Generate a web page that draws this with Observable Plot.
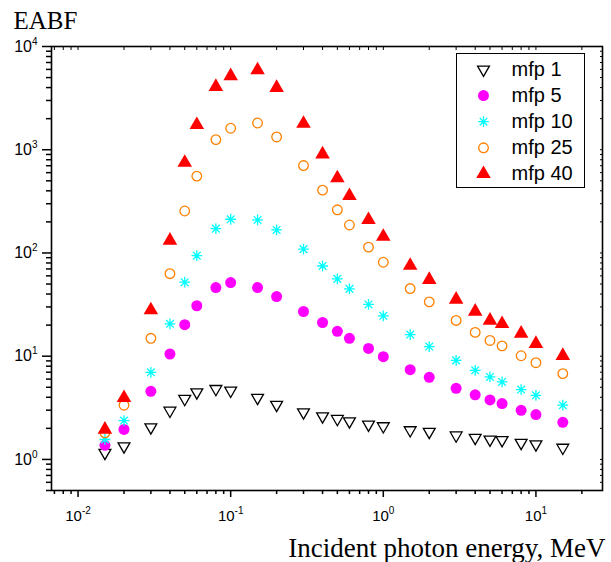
<!DOCTYPE html>
<html>
<head>
<meta charset="utf-8">
<script src="https://cdn.jsdelivr.net/npm/d3@7"></script>
<script src="https://cdn.jsdelivr.net/npm/@observablehq/plot@0.6"></script>
<style>
  body { margin: 0; background: #fff; }
  #chart svg { display: block; }
</style>
</head>
<body>
<div id="chart"></div>
<script>
// ---- data ----
const energies = [0.015, 0.02, 0.03, 0.04, 0.05, 0.06, 0.08, 0.1, 0.15, 0.2, 0.3, 0.4, 0.5, 0.6, 0.8, 1, 1.5, 2, 3, 4, 5, 6, 8, 10, 15];
const mfp1  = [1.16, 1.34, 2.05, 2.97, 3.86, 4.47, 4.82, 4.64, 3.95, 3.38, 2.86, 2.62, 2.47, 2.34, 2.18, 2.10, 1.92, 1.85, 1.71, 1.62, 1.56, 1.54, 1.45, 1.40, 1.30];
const mfp5  = [1.37, 1.95, 4.57, 10.5, 20.2, 30.8, 46.2, 51.7, 46.2, 37.8, 27.1, 21.2, 17.4, 14.9, 11.9, 9.89, 7.41, 6.24, 4.89, 4.22, 3.77, 3.48, 2.99, 2.72, 2.29];
const mfp10 = [1.56, 2.38, 6.98, 20.6, 52.1, 94.2, 172, 212, 209, 167, 109, 74.8, 56.1, 44.9, 31.7, 24.6, 16.2, 12.4, 9.11, 7.3, 6.3, 5.63, 4.75, 4.18, 3.35];
const mfp25 = [1.81, 3.35, 14.9, 63, 255, 555, 1254, 1614, 1815, 1330, 703, 406, 262, 186.5, 114, 81.3, 45.2, 33.6, 22.2, 17.0, 14.2, 12.6, 10.1, 8.65, 6.78];
const mfp40 = [1.95, 3.95, 28, 132, 750, 1740, 4080, 5180, 5900, 3990, 1790, 905, 532, 358, 209, 144, 75.5, 55, 35.4, 27.1, 22.2, 20.6, 16.6, 13.2, 10.1];

const seriesNames = ["mfp 1", "mfp 5", "mfp 10", "mfp 25", "mfp 40"];
const seriesValues = [mfp1, mfp5, mfp10, mfp25, mfp40];

// ---- ticks ----
const xMajorTicks = [0.01, 0.1, 1, 10];
const xMinorTicks = [0.007, 0.008, 0.009, 0.02, 0.03, 0.04, 0.05, 0.06, 0.07, 0.08, 0.09,
  0.2, 0.3, 0.4, 0.5, 0.6, 0.7, 0.8, 0.9, 2, 3, 4, 5, 6, 7, 8, 9, 20];
const yMajorTicks = [1, 10, 100, 1000, 10000];
const yMinorTicks = [0.5, 0.6, 0.7, 0.8, 0.9, 2, 3, 4, 5, 6, 7, 8, 9, 20, 30, 40, 50, 60, 70, 80, 90,
  200, 300, 400, 500, 600, 700, 800, 900, 2000, 3000, 4000, 5000, 6000, 7000, 8000, 9000];

const xLabel = "Incident photon energy, MeV";
const yLabel = "EABF";

// 8-armed asterisk symbol
const asterisk8 = {
  draw(context, size) {
    const r = Math.sqrt(size / Math.PI);
    const c = r * Math.SQRT1_2;
    context.moveTo(-r, 0); context.lineTo(r, 0);
    context.moveTo(0, -r); context.lineTo(0, r);
    context.moveTo(-c, -c); context.lineTo(c, c);
    context.moveTo(-c, c); context.lineTo(c, -c);
  }
};

const seriesStyles = [
  {symbol: "triangle", rotate: 180, r: 4.4, stroke: "#000", fill: "none", strokeWidth: 1.3},
  {symbol: "circle", r: 5.5, fill: "#ff00ff", stroke: "none"},
  {symbol: asterisk8, r: 5.4, stroke: "#00ffff", fill: "none", strokeWidth: 1.3},
  {symbol: "circle", r: 4.8, stroke: "#ff8000", fill: "none", strokeWidth: 1.3},
  {symbol: "triangle", r: 5.4, fill: "#ff0000", stroke: "none"}
];

const rows = energies.flatMap((e, i) =>
  seriesNames.map((s, k) => ({energy: e, eabf: seriesValues[k][i], series: s})));

const expFmt = d => "10^" + Math.round(Math.log10(d));
const blank = () => "";

const marks = [
  Plot.frame({stroke: "#000", strokeWidth: 1.6}),
  Plot.axisX(xMajorTicks, {anchor: "bottom", tickSize: 7, tickPadding: 13, tickFormat: expFmt, fontSize: 15, label: null, strokeWidth: 1.5}),
  Plot.axisX(xMinorTicks, {anchor: "bottom", tickSize: 4, tickFormat: blank, label: null, strokeWidth: 1.5}),
  Plot.axisX([...xMajorTicks, ...xMinorTicks], {anchor: "top", tickSize: -3, tickFormat: blank, label: null, strokeWidth: 1}),
  Plot.axisY(yMajorTicks, {anchor: "left", tickSize: 9, tickPadding: 5, tickFormat: expFmt, fontSize: 16, label: null, strokeWidth: 1.5}),
  Plot.axisY(yMinorTicks, {anchor: "left", tickSize: 5, tickFormat: blank, label: null, strokeWidth: 1.5}),
  Plot.axisY([...yMajorTicks, ...yMinorTicks], {anchor: "right", tickSize: -3, tickFormat: blank, label: null, strokeWidth: 1}),
  ...seriesNames.map((s, k) =>
    Plot.dot(rows.filter(d => d.series === s), {x: "energy", y: "eabf", ...seriesStyles[k]})),
  // legend box
  Plot.frame({insetLeft: 405, insetTop: 7, insetRight: 18, insetBottom: 303, stroke: "#000", fill: "#fff", strokeWidth: 1}),
  ...seriesNames.map((s, k) =>
    Plot.dot([s], {x: null, y: null, frameAnchor: "top-left", dx: 432, dy: 23 + 26.1 * k, ...seriesStyles[k]})),
  ...seriesNames.map((s, k) =>
    Plot.text([s], {x: null, y: null, text: d => d, frameAnchor: "top-left", dx: 460, dy: 23 + 26.1 * k,
      textAnchor: "start", lineAnchor: "middle", fontSize: 20, fill: "#000"})),
  // axis titles
  Plot.text([yLabel], {x: null, y: null, text: d => d, frameAnchor: "top-left", dx: -38, dy: -18,
    textAnchor: "start", lineAnchor: "bottom", fontSize: 25, fontFamily: "Liberation Serif, Times New Roman, serif", fill: "#000"}),
  Plot.text([xLabel], {x: null, y: null, text: d => d, frameAnchor: "bottom-right", dx: 3, dy: 66,
    textAnchor: "end", lineAnchor: "bottom", fontSize: 27, fontFamily: "Liberation Serif, Times New Roman, serif", fill: "#000"})
];

const chart = Plot.plot({
  width: 611,
  height: 562,
  marginLeft: 51,
  marginRight: 9,
  marginTop: 46,
  marginBottom: 72,
  style: {fontFamily: "Liberation Sans, Arial, sans-serif", color: "#000", background: "#fff"},
  x: {type: "log", domain: [0.0067, 27.3]},
  y: {type: "log", domain: [0.5, 10000]},
  marks
});

// superscript exponents in tick labels
const svgNS = "http://www.w3.org/2000/svg";
chart.querySelectorAll("text").forEach(t => {
  const s = t.textContent;
  if (s.includes("^")) {
    const [base, exp] = s.split("^");
    t.textContent = base;
    const ts = document.createElementNS(svgNS, "tspan");
    ts.setAttribute("dy", "-7");
    ts.setAttribute("font-size", "10");
    ts.textContent = exp;
    t.appendChild(ts);
  }
});

document.getElementById("chart").appendChild(chart);
</script>
</body>
</html>
